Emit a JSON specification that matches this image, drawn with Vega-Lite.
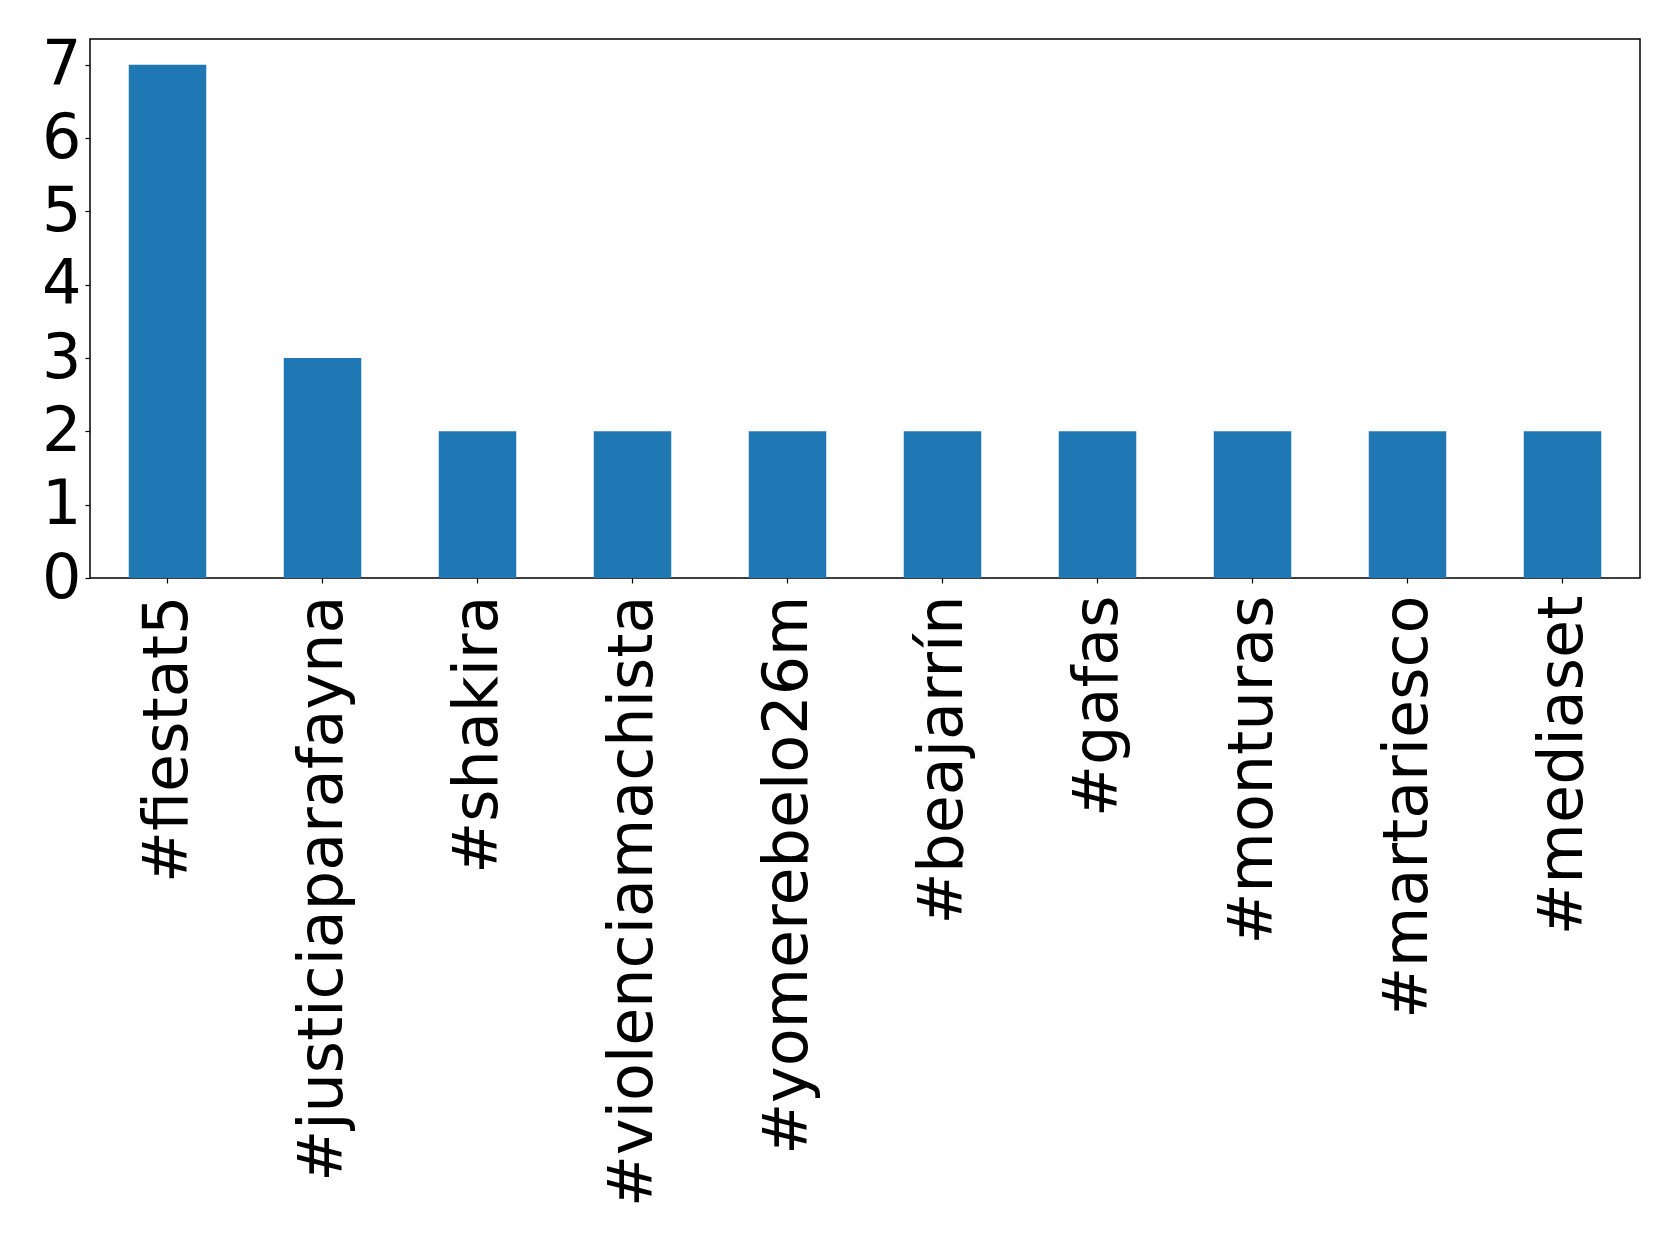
{
  "$schema": "https://vega.github.io/schema/vega-lite/v6.json",
  "autosize": {"type": "none"},
  "padding": {"left": 90, "top": 39, "right": 39, "bottom": 666},
  "width": 1550,
  "height": 539,
  "background": "white",
  "config": {
    "view": {"stroke": "black", "strokeWidth": 1.5},
    "font": "DejaVu Sans"
  },
  "data": {
    "values": [
      {"hashtag": "#fiestat5", "count": 7},
      {"hashtag": "#justiciaparafayna", "count": 3},
      {"hashtag": "#shakira", "count": 2},
      {"hashtag": "#violenciamachista", "count": 2},
      {"hashtag": "#yomerebelo26m", "count": 2},
      {"hashtag": "#beajarrín", "count": 2},
      {"hashtag": "#gafas", "count": 2},
      {"hashtag": "#monturas", "count": 2},
      {"hashtag": "#martariesco", "count": 2},
      {"hashtag": "#mediaset", "count": 2}
    ]
  },
  "mark": {"type": "bar", "color": "#1f77b4"},
  "encoding": {
    "x": {
      "field": "hashtag",
      "type": "nominal",
      "sort": null,
      "scale": {"paddingInner": 0.5, "paddingOuter": 0.25},
      "axis": {
        "title": null,
        "labelAngle": -90,
        "labelFontSize": 62,
        "labelFont": "DejaVu Sans",
        "labelColor": "black",
        "labelPadding": 12,
        "tickSize": 5,
        "tickColor": "black",
        "tickWidth": 1.2,
        "domain": false,
        "labelLimit": 0
      }
    },
    "y": {
      "field": "count",
      "type": "quantitative",
      "scale": {"domain": [0, 7.35], "nice": false},
      "axis": {
        "title": null,
        "values": [0, 1, 2, 3, 4, 5, 6, 7],
        "grid": false,
        "labelFontSize": 62,
        "labelFont": "DejaVu Sans",
        "labelColor": "black",
        "labelPadding": 4,
        "tickSize": 5,
        "tickColor": "black",
        "tickWidth": 1.2,
        "domain": false,
        "labelBound": false,
        "labelOverlap": false
      }
    }
  }
}
